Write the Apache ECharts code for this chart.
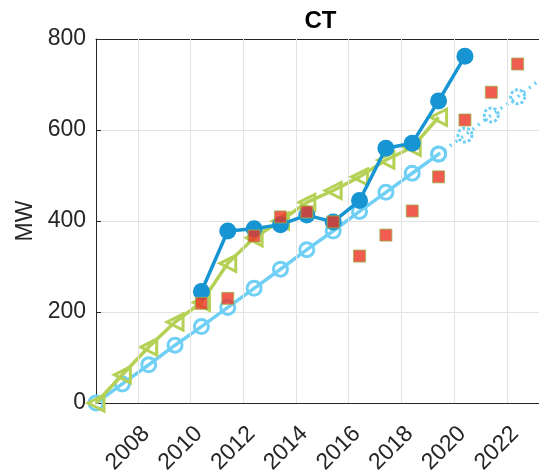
<!DOCTYPE html>
<html>
<head>
<meta charset="utf-8">
<script src="https://cdn.jsdelivr.net/npm/echarts@6/dist/echarts.min.js"></script>
<style>html,body{margin:0;padding:0;background:#fff}#c{width:539px;height:472px}</style>
</head>
<body>
<div id="c"></div>
<script>
const title = 'CT';
const yName = 'MW';
const xTickYears = [2008, 2010, 2012, 2014, 2016, 2018, 2020, 2022];
const yTicks = [0, 200, 400, 600, 800];

const lightYears = [2006.41, 2007.41, 2008.41, 2009.41, 2010.41, 2011.41, 2012.41, 2013.41, 2014.41, 2015.41, 2016.41, 2017.41, 2018.41, 2019.41];
const lightVals  = [0, 42, 84, 127, 168, 210, 252, 294, 337, 378, 421, 463, 505, 547];

const lightDotYears = [2019.41, 2020.41, 2021.41, 2022.41, 2023.41];
const lightDotVals  = [547, 589, 633, 673, 717];

const darkYears = [2010.41, 2011.41, 2012.41, 2013.41, 2014.41, 2015.41, 2016.41, 2017.41, 2018.41, 2019.41, 2020.41];
const darkVals  = [245, 378, 383, 392, 413, 398, 445, 560, 571, 664, 762];

const greenYears = [2006.41, 2007.41, 2008.41, 2009.41, 2010.41, 2011.41, 2012.41, 2013.41, 2014.41, 2015.41, 2016.41, 2017.41, 2018.41, 2019.41];
const greenVals  = [0, 62, 123, 178, 221, 307, 363, 400, 441, 467, 497, 534, 562, 628];

const redYears = [2010.41, 2011.41, 2012.41, 2013.41, 2014.41, 2015.41, 2016.41, 2017.41, 2018.41, 2019.41, 2020.41, 2021.41, 2022.41];
const redVals  = [219, 230, 367, 409, 420, 398, 323, 369, 422, 497, 622, 683, 745];

const xMin = 2006.41, xMax = 2023.22;

const zip = (xs, ys) => xs.map((x, i) => [x, ys[i]]);
const FONT = 'Liberation Sans, Arial, sans-serif';
const TXT = '#262626';

const chart = echarts.init(document.getElementById('c'), null, {renderer: 'canvas'});
chart.setOption({
  animation: false,
  title: {
    text: title, left: 96 + 443 / 2 - 2, top: 4, textAlign: 'center',
    textStyle: {fontFamily: FONT, fontWeight: 'bold', fontSize: 24, color: '#000'}
  },
  grid: {left: 96, right: 0, top: 39, bottom: 69, show: false, containLabel: false, outerBoundsMode: 'none'},
  xAxis: [{
    type: 'value', min: xMin, max: xMax, position: 'bottom',
    axisLine: {show: true, onZero: false, lineStyle: {color: '#262626', width: 1}},
    axisTick: {show: true, inside: true, length: 5, customValues: xTickYears, lineStyle: {color: '#262626'}},
    axisLabel: {customValues: xTickYears, rotate: 45, fontFamily: FONT, fontSize: 23, color: TXT, margin: 19,
      verticalAlign: 'top', formatter: v => String(Math.round(v)), hideOverlap: false},
    splitLine: {show: false}
  }, {
    type: 'value', min: xMin, max: xMax, position: 'top',
    axisLine: {show: true, onZero: false, lineStyle: {color: '#262626', width: 1}},
    axisTick: {show: true, inside: true, length: 5, customValues: xTickYears, lineStyle: {color: '#262626'}},
    axisLabel: {show: false},
    splitLine: {show: false}
  }],
  yAxis: {
    type: 'value', min: 0, max: 800, interval: 200,
    name: yName, nameLocation: 'middle', nameGap: 58, nameRotate: 90,
    nameTextStyle: {fontFamily: FONT, fontSize: 23, color: TXT},
    axisLine: {show: true, lineStyle: {color: '#262626', width: 1}},
    axisTick: {show: true, inside: true, length: 5, lineStyle: {color: '#262626'}},
    axisLabel: {fontFamily: FONT, fontSize: 23, color: TXT, margin: 10},
    splitLine: {show: true, lineStyle: {color: '#e3e3e3', width: 1}}
  },
  series: [
    {
      type: 'line', name: 'grid', data: [], silent: true,
      markLine: {
        silent: true, symbol: 'none', label: {show: false},
        lineStyle: {color: '#e3e3e3', width: 1, type: 'solid'},
        data: xTickYears.map(v => ({xAxis: v}))
      }
    },
    {
      type: 'line', name: 'light', data: zip(lightYears, lightVals),
      symbol: 'circle', symbolSize: 14, clip: true,
      lineStyle: {color: '#70cff5', width: 3.5},
      itemStyle: {color: 'rgba(0,0,0,0)', borderWidth: 3, borderColor: '#70cff5'},
      z: 3
    },
    {
      type: 'line', name: 'lightDot', data: zip(lightDotYears, lightDotVals),
      symbol: 'circle', symbolSize: 14, clip: true,
      lineStyle: {color: '#70cff5', width: 3.5, type: [2, 5]},
      itemStyle: {color: 'rgba(0,0,0,0)', borderWidth: 3, borderColor: '#70cff5', borderType: [3, 2]},
      z: 3
    },
    {
      type: 'line', name: 'green', data: zip(greenYears, greenVals),
      symbol: 'triangle', symbolSize: 16, symbolRotate: 90, clip: true,
      lineStyle: {color: '#b5d155', width: 3.5},
      itemStyle: {color: 'rgba(0,0,0,0)', borderWidth: 3, borderColor: '#b5d155'},
      z: 4
    },
    {
      type: 'line', name: 'dark', data: zip(darkYears, darkVals),
      symbol: 'circle', symbolSize: 17, clip: true,
      lineStyle: {color: '#1795d3', width: 3.5},
      itemStyle: {color: '#1795d3'},
      z: 5
    },
    {
      type: 'scatter', name: 'red', data: zip(redYears, redVals),
      symbol: 'rect', symbolSize: 12, clip: true,
      itemStyle: {color: '#ec3323', borderColor: '#9bb34c', borderWidth: 1},
      z: 6
    }
  ]
});
</script>
</body>
</html>
